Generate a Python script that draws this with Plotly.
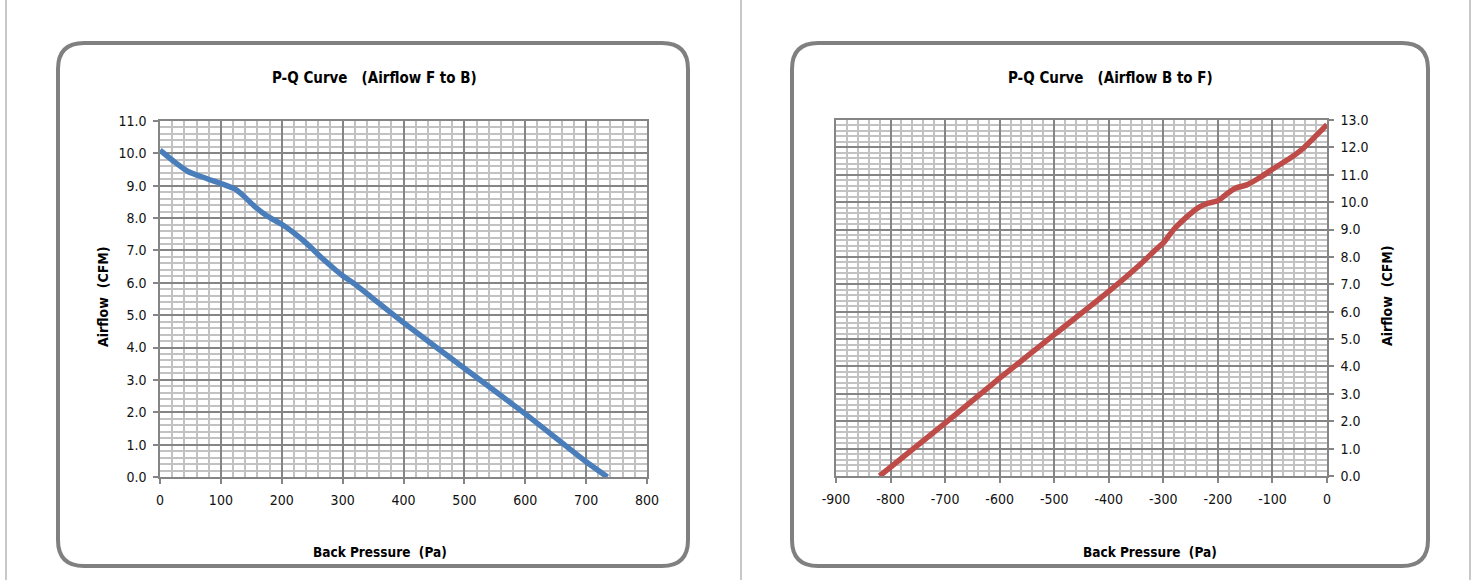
import plotly.graph_objects as go

# ---- data ----
fb_pressure = [0, 25, 46, 74, 100, 123, 137, 156, 178, 200, 221, 243, 265, 287, 300,
               320, 347, 400, 500, 600, 700, 735]
fb_airflow = [10.10, 9.72, 9.44, 9.24, 9.07, 8.90, 8.69, 8.35, 8.04, 7.81, 7.53, 7.18,
              6.78, 6.42, 6.22, 5.96, 5.56, 4.77, 3.36, 1.95, 0.47, 0.0]

bf_pressure = [-820, -700, -600, -500, -400, -341, -317, -300, -281, -256, -235, -220,
               -200, -184, -168, -147, -123, -100, -68, -44, -20, 0]
bf_airflow = [0.0, 1.93, 3.57, 5.16, 6.74, 7.75, 8.21, 8.51, 9.00, 9.48, 9.81, 9.95,
              10.05, 10.30, 10.51, 10.63, 10.90, 11.20, 11.60, 11.96, 12.43, 12.83]

fb_xticks = [0, 100, 200, 300, 400, 500, 600, 700, 800]
bf_xticks = [-900, -800, -700, -600, -500, -400, -300, -200, -100, 0]
bf_xticklabels = ["-900", "-800", "-700", "-600", "-500", "-400", "-300", "-200", "-100", "0"]

title_fb = "P-Q Curve\u00a0\u00a0\u00a0(Airflow F to B)"
title_bf = "P-Q Curve\u00a0\u00a0\u00a0(Airflow B to F)"
x_title = "Back Pressure\u00a0\u00a0(Pa)"
y_title = "Airflow\u00a0\u00a0(CFM)"

W, H = 1477, 580
FONT = "DejaVu Sans Condensed, Liberation Sans Narrow, sans-serif"
MAJOR = "#858585"
MINOR = "#c2c2c2"


def px(x):
    return x / W


def py(y):
    return 1 - y / H


fig = go.Figure()
fig.add_trace(go.Scatter(x=fb_pressure, y=fb_airflow, mode="lines",
                         line=dict(color="#4A7EBB", width=5.5, shape="spline", smoothing=0.6),
                         xaxis="x", yaxis="y", showlegend=False, hoverinfo="x+y"))
fig.add_trace(go.Scatter(x=bf_pressure, y=bf_airflow, mode="lines",
                         line=dict(color="#BE4B48", width=5.5, shape="spline", smoothing=0.6),
                         xaxis="x2", yaxis="y2", showlegend=False, hoverinfo="x+y"))

axis_common = dict(showline=True, linecolor=MAJOR, linewidth=1.5, mirror=True,
                   ticks="outside", ticklen=5, tickcolor=MAJOR, tickwidth=1.5,
                   showgrid=True, gridcolor=MAJOR, gridwidth=1.5, zeroline=False,
                   automargin=False, ticklabelstandoff=4,
                   tickfont=dict(family=FONT, size=14, color="#111111"), fixedrange=True)
minor_x = dict(dtick=20, showgrid=True, gridcolor=MINOR, gridwidth=1.5)

fig.update_layout(
    width=W, height=H, autosize=False,
    margin=dict(l=0, r=0, t=0, b=0, pad=0, autoexpand=False),
    paper_bgcolor="white", plot_bgcolor="white",
    xaxis=dict(domain=[px(160), px(647)], range=[0, 800], tickvals=fb_xticks, anchor="y",
               minor=minor_x, **axis_common),
    yaxis=dict(domain=[py(477), py(121)], range=[0, 11], dtick=1, tickformat=".1f",
               anchor="x",
               minor=dict(dtick=0.2, showgrid=True, gridcolor=MINOR, gridwidth=1.5),
               **axis_common),
    xaxis2=dict(domain=[px(836), px(1327)], range=[-900, 0], tickvals=bf_xticks,
                ticktext=bf_xticklabels, anchor="y2", minor=minor_x, **axis_common),
    yaxis2=dict(domain=[py(476), py(120)], range=[0, 13], dtick=1, tickformat=".1f",
                anchor="x2", side="right",
                minor=dict(dtick=0.2, showgrid=True, gridcolor=MINOR, gridwidth=1.5),
                **axis_common),
)


def rounded_box(x0, y0, x1, y1, r):
    rx, ry = r / W, r / H
    X0, X1 = px(x0), px(x1)
    Y0, Y1 = py(y1), py(y0)  # bottom, top in paper
    return (f"M {X0+rx},{Y1} L {X1-rx},{Y1} Q {X1},{Y1} {X1},{Y1-ry} "
            f"L {X1},{Y0+ry} Q {X1},{Y0} {X1-rx},{Y0} "
            f"L {X0+rx},{Y0} Q {X0},{Y0} {X0},{Y0+ry} "
            f"L {X0},{Y1-ry} Q {X0},{Y1} {X0+rx},{Y1} Z")


shapes = []
for xs in (6, 741, 1470):
    shapes.append(dict(type="line", xref="paper", yref="paper", x0=px(xs), x1=px(xs),
                       y0=0, y1=1, line=dict(color="#c8c8c8", width=2), layer="below"))
for (a, b) in ((58, 688), (792, 1428)):
    shapes.append(dict(type="path", xref="paper", yref="paper",
                       path=rounded_box(a, 43, b, 566, 26),
                       line=dict(color="#808080", width=4), layer="below"))
fig.update_layout(shapes=shapes)

ann_font = dict(family=FONT, size=15, color="black")
annotations = [
    dict(text=f"<b>{title_fb}</b>", x=px(374), y=py(78), font=ann_font),
    dict(text=f"<b>{title_bf}</b>", x=px(1110), y=py(78), font=ann_font),
    dict(text=f"<b>{x_title}</b>", x=px(380), y=py(552), font=dict(ann_font, size=13.5)),
    dict(text=f"<b>{x_title}</b>", x=px(1150), y=py(552), font=dict(ann_font, size=13.5)),
    dict(text=f"<b>{y_title}</b>", x=px(103), y=py(296), textangle=-90,
         font=dict(ann_font, size=14)),
    dict(text=f"<b>{y_title}</b>", x=px(1387), y=py(296), textangle=-90,
         font=dict(ann_font, size=14)),
]
for a in annotations:
    a.update(xref="paper", yref="paper", showarrow=False, xanchor="center", yanchor="middle")
fig.update_layout(annotations=annotations)

fig.write_html("out.html", config={"displayModeBar": False},
               post_script="document.body.style.margin='0';")
